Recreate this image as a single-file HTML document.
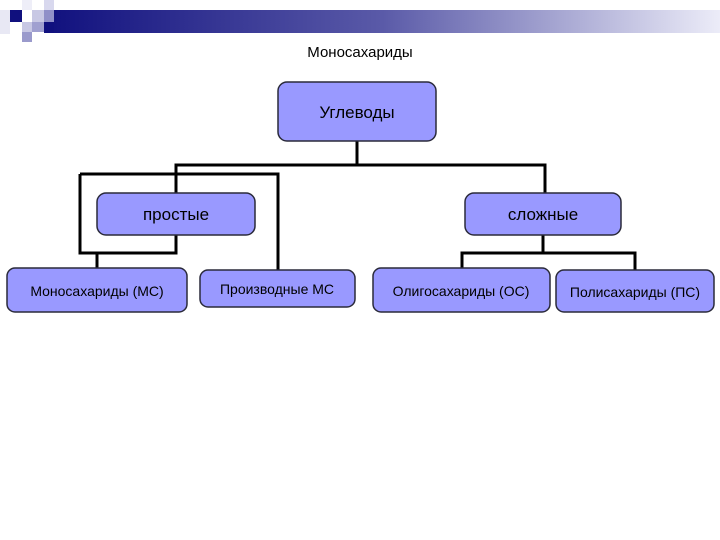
<!DOCTYPE html>
<html><head><meta charset="utf-8"><style>
body{margin:0;width:720px;height:540px;background:#fff;overflow:hidden}
svg{display:block}
text{font-family:"Liberation Sans",sans-serif;fill:#000}
</style></head><body>
<svg width="720" height="540" viewBox="0 0 720 540">
<defs><linearGradient id="g" x1="0" x2="1"><stop offset="0" stop-color="#10107e"/><stop offset="0.5" stop-color="#5a5aa8"/><stop offset="1" stop-color="#ececf8"/></linearGradient></defs>
<rect x="45" y="10" width="675" height="23" fill="url(#g)"/>
<rect x="0" y="10" width="10" height="24" fill="#e8e8f4"/>
<rect x="10" y="10" width="12" height="12" fill="#10107e"/>
<rect x="22" y="0" width="10" height="10" fill="#eeeef8"/>
<rect x="32" y="10" width="12" height="12" fill="#c8c8e4"/>
<rect x="44" y="0" width="10" height="10" fill="#d8d8ee"/>
<rect x="44" y="10" width="10" height="12" fill="#9090c8"/>
<rect x="44" y="22" width="10" height="11" fill="#10107e"/>
<rect x="22" y="22" width="10" height="10" fill="#c8c8e4"/>
<rect x="32" y="22" width="12" height="10" fill="#a0a0d0"/>
<rect x="22" y="32" width="10" height="10" fill="#9a9acc"/>
<text x="360" y="57" font-size="15" text-anchor="middle">Моносахариды</text>
<g fill="none" stroke="#000" stroke-width="3">
<path d="M357 141V165M176 193V165H545V193"/>
<path d="M80 174H278V270M80 174V253H176V235M97 253V268"/>
<path d="M543 235V253M462 268V253H635V270"/>
</g>
<g fill="#9999ff" stroke="#2a2a3a" stroke-width="1.5">
<rect x="278" y="82" width="158" height="59" rx="9"/>
<rect x="97" y="193" width="158" height="42" rx="9"/>
<rect x="465" y="193" width="156" height="42" rx="9"/>
<rect x="7" y="268" width="180" height="44" rx="8"/>
<rect x="200" y="270" width="155" height="37" rx="8"/>
<rect x="373" y="268" width="177" height="44" rx="8"/>
<rect x="556" y="270" width="158" height="42" rx="8"/>
</g>
<g font-size="17" text-anchor="middle">
<text x="357" y="118">Углеводы</text>
<text x="176" y="220">простые</text>
<text x="543" y="220">сложные</text>
</g>
<g font-size="14" text-anchor="middle">
<text x="97" y="296">Моносахариды (МС)</text>
<text x="277" y="294">Производные МС</text>
<text x="461" y="296">Олигосахариды (ОС)</text>
<text x="635" y="297">Полисахариды (ПС)</text>
</g>
</svg>
</body></html>
